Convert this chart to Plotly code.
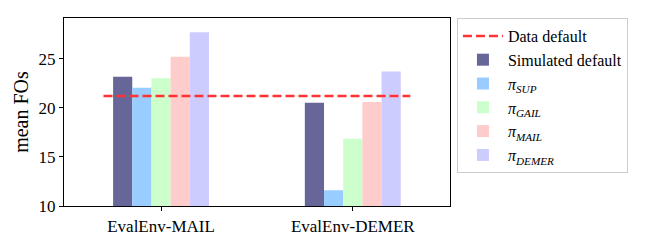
import plotly.graph_objects as go

categories = ["EvalEnv-MAIL", "EvalEnv-DEMER"]
series_names = ["Simulated default", "<i>π</i><sub><i>SUP</i></sub>", "<i>π</i><sub><i>GAIL</i></sub>",
                "<i>π</i><sub><i>MAIL</i></sub>", "<i>π</i><sub><i>DEMER</i></sub>"]
sim_default = [23.15, 20.5]
pi_sup = [22.05, 11.6]
pi_gail = [23.0, 16.85]
pi_mail = [25.2, 20.6]
pi_demer = [27.7, 23.7]
data_default = 21.2
colors = ["#666699", "#99ccff", "#ccffcc", "#ffcccc", "#ccccff"]

series = [sim_default, pi_sup, pi_gail, pi_mail, pi_demer]
xpos = list(range(len(categories)))

fig = go.Figure()
fig.add_trace(go.Scatter(x=[-0.3, 1.3], y=[data_default, data_default], mode="lines",
                         line=dict(color="#ff3333", width=2.5, dash="9px,4px"),
                         name="Data default"))
for name, vals, c in zip(series_names, series, colors):
    fig.add_trace(go.Bar(x=xpos, y=vals, name=name, marker=dict(color=c, line=dict(width=0))))

family = "Liberation Serif, DejaVu Serif, serif"
fnt = dict(family=family, size=17, color="black")
fig.update_layout(
    width=664, height=247,
    margin=dict(l=64, r=214, t=18, b=41, autoexpand=False),
    paper_bgcolor="white", plot_bgcolor="white",
    barmode="group", bargap=0.5, bargroupgap=0,
    font=fnt,
    showlegend=True,
    legend=dict(x=1.018, y=1.0, xanchor="left", yanchor="top",
                bordercolor="#cccccc", borderwidth=1,
                font=dict(family=family, size=16, color="black"),
                tracegroupgap=0, itemwidth=40),
    xaxis=dict(range=[-0.506, 1.507], tickvals=xpos, ticktext=categories, automargin=False,
               showline=True, linecolor="black", linewidth=1.2, mirror=True,
               ticks="outside", ticklen=4, tickcolor="black", showgrid=False, zeroline=False),
    yaxis=dict(range=[10, 29.14], tickvals=[10, 15, 20, 25], automargin=False,
               showline=True, linecolor="black", linewidth=1.2, mirror=True,
               ticks="outside", ticklen=4, tickcolor="black", showgrid=False, zeroline=False,
               title=dict(text="mean FOs", standoff=4,
                          font=dict(family=family, size=20, color="black"))),
)
fig.write_html("out.html", config={"displayModeBar": False},
               post_script="document.body.style.margin='0';")
